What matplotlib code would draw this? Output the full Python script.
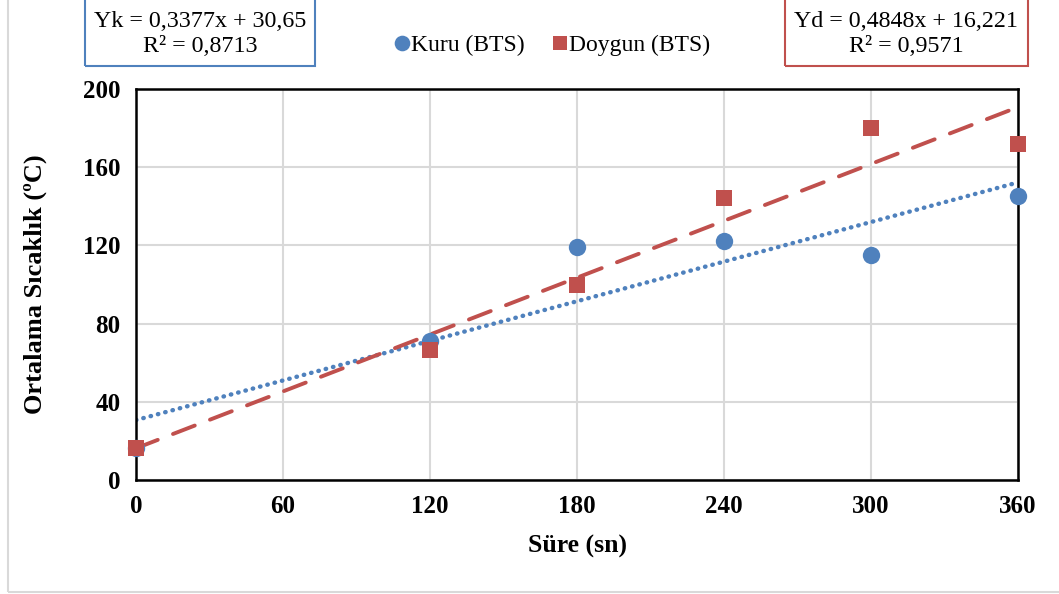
import numpy as np
import matplotlib.pyplot as plt
from matplotlib.patches import Rectangle

plt.rcParams['font.family'] = ['Liberation Serif', 'DejaVu Serif']

# time (s) and mean temperature (°C)
sure = [0, 120, 180, 240, 300, 360]
kuru = [16.5, 71, 119, 122.5, 115, 145.5]
doygun = [16.5, 66.5, 100, 144, 180, 172]

# trendline coefficients
kuru_egim, kuru_kesim = 0.3377, 30.65
doygun_egim, doygun_kesim = 0.4848, 16.221

mavi = '#4F81BD'
kirmizi = '#C0504D'

fig = plt.figure(figsize=(10.59, 5.94), dpi=100)
ax = fig.add_axes([136 / 1059, 1 - 480 / 594, (1018 - 136) / 1059, (480 - 89) / 594])

# outer chart frame
fig.patches.append(Rectangle((8 / 1059, 2 / 594), 1.2, 1.2, transform=fig.transFigure,
                             fill=False, edgecolor='#D9D9D9', linewidth=1.5))

xx = np.array([0, 360])
ax.plot(xx, kuru_egim * xx + kuru_kesim, color=mavi, linestyle=(0, (0.1, 1.6)),
        linewidth=3.2, dash_capstyle='round', zorder=2)
ax.plot(xx, doygun_egim * xx + doygun_kesim, color=kirmizi, linestyle=(0, (6, 4.2)),
        linewidth=2.8, dash_capstyle='round', zorder=2)

ax.plot(sure, kuru, 'o', color=mavi, markersize=12.5, markeredgewidth=0, zorder=3,
        label='Kuru (BTS)', clip_on=False)
ax.plot(sure, doygun, 's', color=kirmizi, markersize=11, markeredgewidth=0, zorder=4,
        label='Doygun (BTS)', clip_on=False)

ax.set_xlim(0, 360)
ax.set_ylim(0, 200)
ax.set_xticks(range(0, 361, 60))
ax.set_yticks(range(0, 201, 40))
ax.grid(True, color='#D9D9D9', linewidth=1.5)
ax.set_axisbelow(True)
ax.tick_params(length=0, labelsize=18, pad=11)
for lab in ax.get_xticklabels() + ax.get_yticklabels():
    lab.set_fontweight('bold')
for s in ax.spines.values():
    s.set_linewidth(1.8)
    s.set_color('black')

ax.set_xlabel('Süre (sn)', fontsize=18.5, fontweight='bold', labelpad=12)
ax.set_ylabel('Ortalama Sıcaklık (ºC)', fontsize=19, fontweight='bold', labelpad=26)

leg = fig.legend(loc='center', bbox_to_anchor=(549 / 1059, 1 - 45 / 594), ncol=2,
                 frameon=False, fontsize=17, handletextpad=-0.2, columnspacing=0.9,
                 markerscale=0.9, handlelength=1.2)

# equation boxes
fig.patches.append(Rectangle((85 / 1059, 1 - 66 / 594), 230 / 1059, 0.2,
                             transform=fig.transFigure, fill=False, edgecolor=mavi, linewidth=1.5))
fig.patches.append(Rectangle((785 / 1059, 1 - 66 / 594), 243 / 1059, 0.2,
                             transform=fig.transFigure, fill=False, edgecolor=kirmizi, linewidth=1.5))
fig.text(200 / 1059, 1 - 34 / 594, f'Yk = {kuru_egim}x + {kuru_kesim}\nR² = 0,8713'.replace('.', ','),
         ha='center', va='center', fontsize=17.3, linespacing=1.25)
fig.text(906 / 1059, 1 - 34 / 594, f'Yd = {doygun_egim}x + {doygun_kesim}\nR² = 0,9571'.replace('.', ','),
         ha='center', va='center', fontsize=17.3, linespacing=1.25)

fig.savefig('out.png', dpi=100)
